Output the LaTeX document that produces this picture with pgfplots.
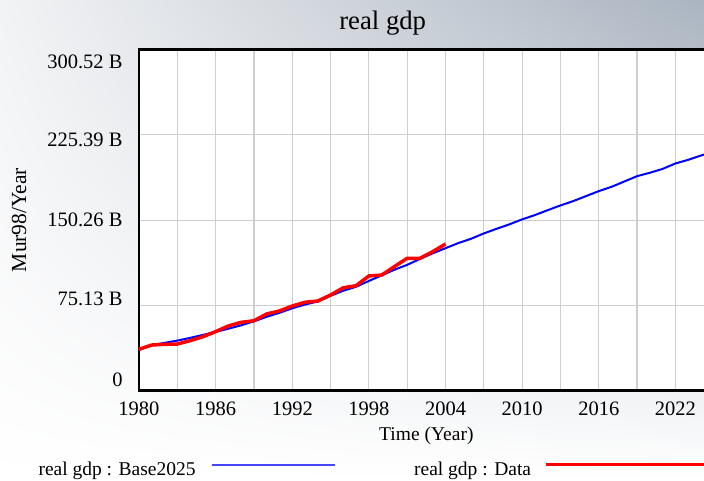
\documentclass[border=0pt]{standalone}
\usepackage{pgfplots}
\pgfplotsset{compat=1.18}
\usetikzlibrary{shadings}
\usepackage{fontspec}
\setmainfont{Liberation Serif}
\definecolor{gridgray}{RGB}{206,206,206}
\definecolor{bgtr}{RGB}{170,180,192}
\definecolor{bgtl}{RGB}{242,243,245}
\definecolor{legblue}{RGB}{70,70,255}
\begin{document}
\begin{tikzpicture}[x=1pt,y=1pt]
\useasboundingbox (0,0) rectangle (704,480);
\clip (0,0) rectangle (704,480);
\shade[upper left=bgtl, upper right=bgtr, lower left=white, lower right=white] (0,0) rectangle (704,480);
\node[anchor=base, font=\fontsize{26.7}{30}\selectfont] at (382.7,450.5) {real gdp};
\begin{axis}[
  at={(139pt,89.5pt)}, anchor=south west,
  scale only axis, width=574.7pt, height=340.8pt,
  xmin=1980, xmax=2025, ymin=0, ymax=300.52,
  axis background/.style={fill=white},
  axis line style={line width=2.7pt, black},
  xtick={1980,1986,1992,1998,2004,2010,2016,2022},
  xticklabels={1980,1986,1992,1998,2004,2010,2016,2022},
  minor xtick={1983,1989,1995,2001,2007,2013,2019,2025},
  ytick={0,75.13,150.26,225.39,300.52},
  yticklabels={},
  major tick length=0pt, minor tick length=0pt,
  grid=both,
  major grid style={gridgray, line width=1.2pt},
  minor grid style={gridgray, line width=1.2pt},
  xticklabel style={anchor=north, inner sep=0pt, yshift=-11pt, font=\fontsize{20.5}{24}\selectfont},
  xlabel={Time (Year)},
  xlabel style={at={(rel axis cs:0.5,0)}, anchor=base, inner sep=0pt, yshift=-49.5pt, font=\fontsize{19.5}{23}\selectfont},
  clip=false,
  legend columns=2,
  legend plot pos=right,
  legend style={at={(rel axis cs:-0.1752,-0.2295)}, anchor=west, draw=none, fill=none,
     inner sep=0pt, nodes={inner sep=0pt, font=\fontsize{19.5}{23}\selectfont},
     column sep=0pt, /tikz/every even column/.append style={column sep=78.3pt}},
]
\addplot[blue, line width=2pt,
  legend image code/.code={\path[draw=none, fill=none] (0pt,-6pt) rectangle (139.3pt,10pt); \draw[legblue, line width=2pt] (16.6pt,5pt) -- (139.3pt,5pt);}]
  coordinates {
(1980,36) (1981,40) (1982,42) (1983,44) (1984,46.4) (1985,49) (1986,51.7)
(1987,54.5) (1988,57.5) (1989,61) (1990,65) (1991,68.5) (1992,72.5) (1993,75.8)
(1994,78.5) (1995,83.5) (1996,88) (1997,91.5) (1998,96.6) (1999,101.5) (2000,106.5)
(2001,110.8) (2002,116) (2003,121) (2004,125.5) (2005,130) (2006,133.8) (2007,138.5)
(2008,142.6) (2009,146.5) (2010,150.9) (2011,154.7) (2012,159) (2013,163.2) (2014,167)
(2015,171.4) (2016,175.8) (2017,179.6) (2018,184.3) (2019,189) (2020,192) (2021,195.4)
(2022,200.2) (2023,203.4) (2024,207.2) (2025,210.5)
};
\addlegendentry{real gdp : Base2025}
\addplot[red, line width=3.5pt,
  legend image code/.code={\path[draw=none, fill=none] (0pt,-6pt) rectangle (200pt,10pt); \draw[red, line width=3pt] (15pt,5pt) -- (200pt,5pt);}]
  coordinates {
(1980,36.3) (1981,40.1) (1982,40.7) (1983,41) (1984,43.9) (1985,47.4) (1986,51.9)
(1987,56.9) (1988,60.1) (1989,61.5) (1990,67.5) (1991,70.1) (1992,74.5) (1993,77.8)
(1994,78.9) (1995,84.2) (1996,90.6) (1997,92.4) (1998,101) (1999,101.8) (2000,109.2)
(2001,116.6) (2002,116.6) (2003,122.4) (2004,129.2)
};
\addlegendentry{real gdp : Data}
\begin{scope}[every node/.style={anchor=east, inner sep=0pt, xshift=-16.3pt, font=\fontsize{20.5}{24}\selectfont}]
\node at (rel axis cs:0,0.9648) {300.52 B};
\node at (rel axis cs:0,0.7359) {225.39 B};
\node at (rel axis cs:0,0.5003) {150.26 B};
\node at (rel axis cs:0,0.2676) {75.13 B};
\node at (rel axis cs:0,0.0329) {0};
\end{scope}
\end{axis}
\node[rotate=90, anchor=center, font=\fontsize{21.5}{25}\selectfont] at (19,260) {Mur98/Year};
\end{tikzpicture}
\end{document}
